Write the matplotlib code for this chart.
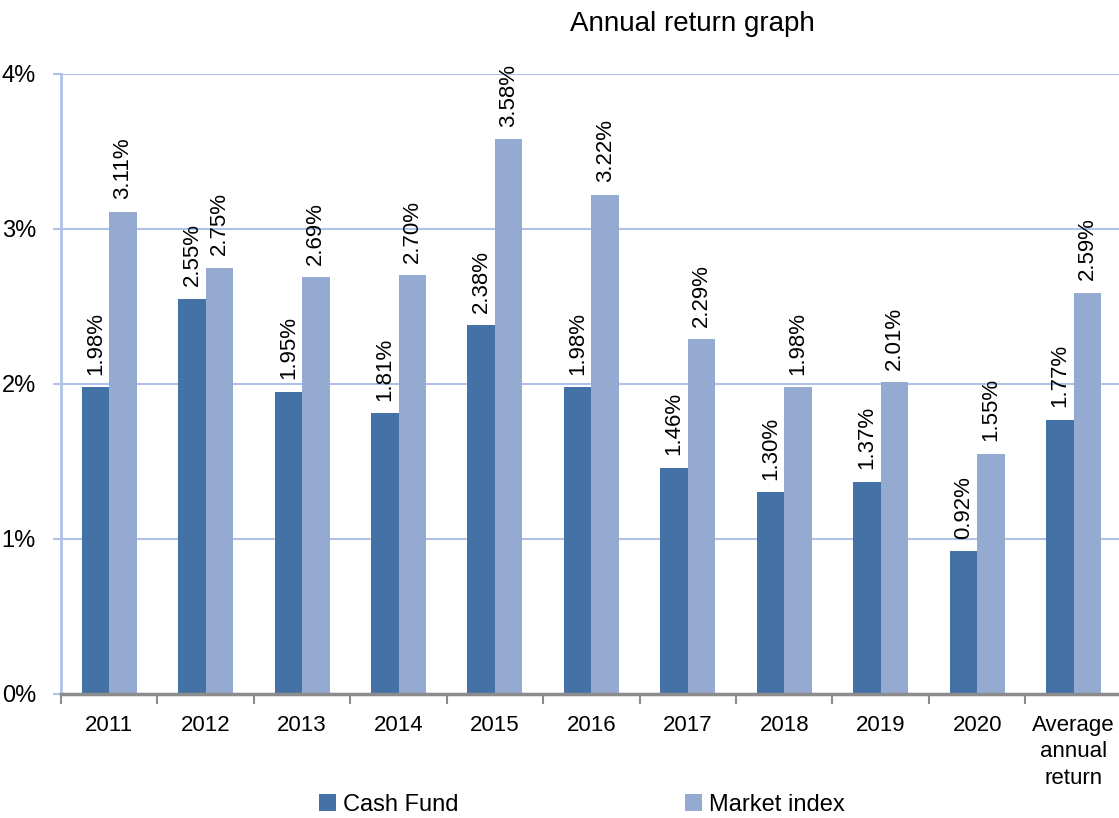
import numpy as np
import matplotlib
matplotlib.use("Agg")
import matplotlib.pyplot as plt
from matplotlib.ticker import FixedLocator, FuncFormatter

plt.rcParams["font.family"] = ["Liberation Sans Narrow", "Liberation Sans", "DejaVu Sans"]

categories = ["2011", "2012", "2013", "2014", "2015", "2016", "2017", "2018", "2019", "2020",
              "Average\nannual\nreturn"]
cash_fund = [1.98, 2.55, 1.95, 1.81, 2.38, 1.98, 1.46, 1.30, 1.37, 0.92, 1.77]
market_index = [3.11, 2.75, 2.69, 2.70, 3.58, 3.22, 2.29, 1.98, 2.01, 1.55, 2.59]

dark = "#4472A6"
light = "#95AAD1"
grid_col = "#AFC2E8"

fig = plt.figure(figsize=(11.19, 8.18), dpi=100)
ax = fig.add_axes([0.0545, 0.1516, 0.948, 0.758])

x = np.arange(len(categories))
w = 0.285
b1 = ax.bar(x - w / 2, cash_fund, w, color=dark, label="Cash Fund", zorder=3)
b2 = ax.bar(x + w / 2, market_index, w, color=light, label="Market index", zorder=3)

for bars, vals in ((b1, cash_fund), (b2, market_index)):
    for r, v in zip(bars, vals):
        ax.annotate(f"{v:.2f}%", (r.get_x() + r.get_width() / 2, v),
                    xytext=(0, 9), textcoords="offset points",
                    rotation=90, ha="center", va="bottom", fontsize=16)

ax.set_xlim(-0.5, len(categories) - 0.5)
ax.set_ylim(0, 4)
ax.set_yticks([0, 1, 2, 3, 4])
ax.yaxis.set_major_formatter(FuncFormatter(lambda v, p: f"{v:.0f}%"))
ax.yaxis.grid(True, color=grid_col, lw=1.5, zorder=0)
ax.tick_params(axis="y", length=6, color=grid_col, width=1.5, labelsize=17, pad=12)

ax.set_xticks(x)
ax.set_xticklabels(categories, fontsize=16, va="top", linespacing=1.35)
ax.tick_params(axis="x", which="major", length=0, pad=15)
ax.xaxis.set_minor_locator(FixedLocator(np.arange(-0.5, len(categories), 1.0)))
ax.tick_params(axis="x", which="minor", length=7, width=1.5, color="#8C8C8C")

for s in ("top", "right"):
    ax.spines[s].set_visible(False)
ax.spines["left"].set_color(grid_col)
ax.spines["left"].set_linewidth(2)
ax.spines["bottom"].set_color("#8C8C8C")
ax.spines["bottom"].set_linewidth(2.5)
ax.spines["bottom"].set_zorder(4)

fig.text(0.619, 1 - 24 / 818, "Annual return graph", ha="center", va="center", fontsize=20)

fig.legend(handles=[b1, b2], loc="center", bbox_to_anchor=(0.52, 1 - 805 / 818),
           ncol=2, frameon=False, fontsize=17, handlelength=0.7, handleheight=0.7,
           handletextpad=0.3, columnspacing=9.6)

fig.savefig("out.png", dpi=100)
